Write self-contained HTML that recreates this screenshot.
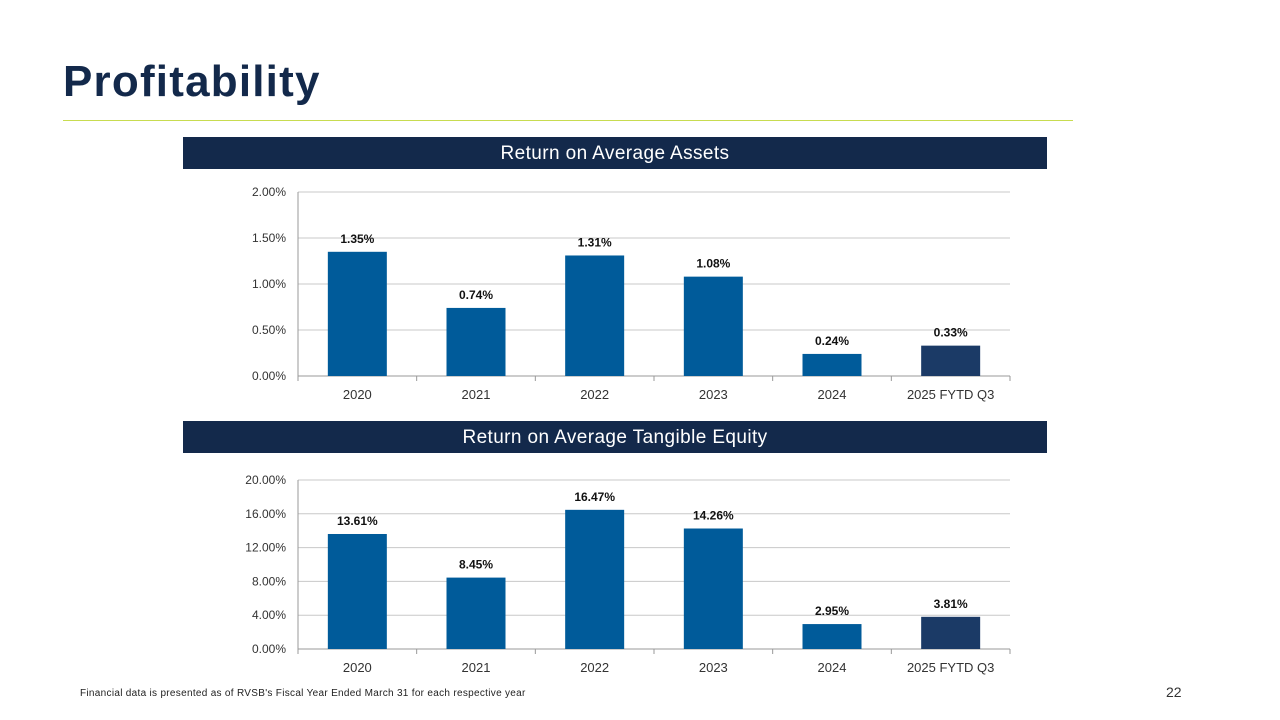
<!DOCTYPE html>
<html><head><meta charset="utf-8">
<style>
body{margin:0;width:1280px;height:720px;background:#fff;position:relative;font-family:"Liberation Sans",sans-serif;overflow:hidden}
.title{position:absolute;left:63px;top:57px;font-size:44px;font-weight:bold;color:#13294b;letter-spacing:1.2px}
.rule{position:absolute;left:63px;top:120px;width:1010px;height:1px;background:#c8dc50}
.band{position:absolute;left:183px;width:864px;height:32px;background:#13294b;color:#fff;font-size:19px;text-align:center;line-height:34px;letter-spacing:0.4px}
.foot{position:absolute;left:80px;top:688px;font-size:10px;color:#222;letter-spacing:0.3px}
.pg{position:absolute;left:1166px;top:684px;font-size:14px;color:#333}
svg{position:absolute;left:0;top:0}
</style></head><body>
<div class="title">Profitability</div>
<div class="rule"></div>
<div class="band" style="top:137px">Return on Average Assets</div>
<div class="band" style="top:421px">Return on Average Tangible Equity</div>
<svg id="c" width="1280" height="720"></svg>
<div class="foot">Financial data is presented as of RVSB's Fiscal Year Ended March 31 for each respective year</div>
<div class="pg">22</div>
<script>
const categories=["2020","2021","2022","2023","2024","2025 FYTD Q3"];
const roaaValues=[1.35,0.74,1.31,1.08,0.24,0.33];
const roaaTicks=[0,0.5,1,1.5,2];
const roateValues=[13.61,8.45,16.47,14.26,2.95,3.81];
const roateTicks=[0,4,8,12,16,20];
const svg=document.getElementById('c');
const NS='http://www.w3.org/2000/svg';
function mk(t,a,txt){const e=document.createElementNS(NS,t);for(const k in a)e.setAttribute(k,a[k]);if(txt!==undefined)e.textContent=txt;svg.appendChild(e);return e;}
function chart(name,vals,ticks,y0,y1,dec){
  const x0=298,x1=1010,max=ticks[ticks.length-1];
  const cw=(x1-x0)/categories.length;
  const ys=v=>y0-(v/max)*(y0-y1);
  ticks.forEach(t=>{
    const l=mk('line',{x1:x0,x2:x1,y1:ys(t),y2:ys(t),stroke:t===0?'#999':'#c8c8c8','stroke-width':1});
    
    const tx=mk('text',{x:x0-12,y:ys(t)+4,'text-anchor':'end','font-size':12,fill:'#333'},t.toFixed(dec)+'%');
    
  });
  mk('line',{x1:x0,x2:x0,y1:y1,y2:y0,stroke:'#999'});
  for(let i=0;i<=categories.length;i++)mk('line',{x1:x0+i*cw,x2:x0+i*cw,y1:y0,y2:y0+5,stroke:'#999'});
  vals.forEach((v,i)=>{
    const cx=x0+cw*(i+0.5),bw=59;
    const r=mk('rect',{x:cx-bw/2,y:ys(v),width:bw,height:y0-ys(v),fill:i===5?'#1b3a66':'#005b9a'});
    
    
    const l=mk('text',{x:cx,y:ys(v)-9,'text-anchor':'middle','font-size':12,'font-weight':'bold',fill:'#111'},v.toFixed(2)+'%');
    
    const c=mk('text',{x:cx,y:y0+23,'text-anchor':'middle','font-size':13,fill:'#333'},categories[i]);
    
  });
}
chart('roaa',roaaValues,roaaTicks,376,192,2);
chart('roate',roateValues,roateTicks,649,480,2);
</script>
</body></html>
